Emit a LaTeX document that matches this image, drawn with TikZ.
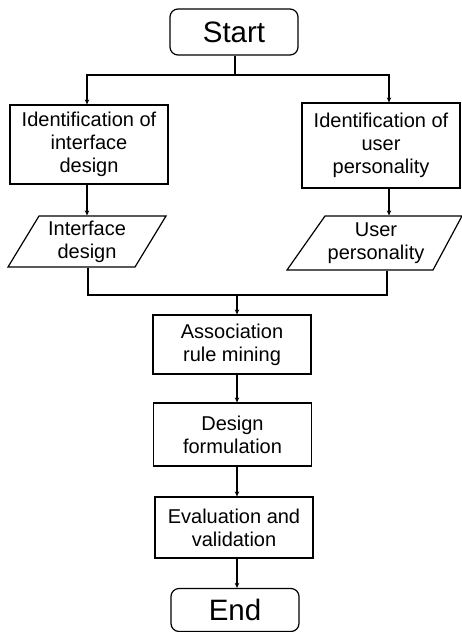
\documentclass[tikz,border=0pt]{standalone}
\usepackage{fontspec}
\setmainfont{Liberation Sans}
\usetikzlibrary{arrows.meta,calc}
\begin{document}
\begin{tikzpicture}[x=1pt,y=-1pt,
  line width=1.2pt,
  every node/.style={font=\fontsize{20}{23}\selectfont, align=center, inner sep=0pt},
  procbox/.style={draw, rectangle, minimum width=158pt, minimum height=#1},
  termbox/.style={draw, rounded corners=8pt, minimum width=128pt, minimum height=#1, font=\fontsize{29.5}{31}\selectfont},
  arr/.style={-{Stealth[length=5pt,width=4.5pt]}}
]
\useasboundingbox[fill=white] (0,0) rectangle (462,632);

% terminals
\node[termbox=46pt] (start) at (234,32) {Start};
\node[termbox=43pt] (end) at (235,610) {End};

% processes
\node[procbox=79pt] (lbox) at (89,144.5) {Identification of\\interface\\design};
\node[procbox=85pt] (rbox) at (381,145.5) {Identification of\\user\\personality};
\node[procbox=59pt] (assoc) at (232,344.5) {Association\\rule mining};
\node[procbox=63pt] (design) at (232.5,434.5) {Design\\formulation};
\node[procbox=61pt] (eval) at (234,527.5) {Evaluation and\\validation};

% data (parallelograms)
\draw (39,216) -- (166,216) -- (135,267) -- (8,267) -- cycle;
\node[minimum width=120pt, minimum height=51pt] (lpara) at (87,241.5) {Interface\\design};
\draw (325,216) -- (462,216) -- (433,270) -- (287,270) -- cycle;
\node[minimum width=120pt, minimum height=54pt] (rpara) at (376,243) {User\\personality};

% junctions
\coordinate (j1) at (235,75);
\coordinate (j2) at (237,295);

% connectors
\draw (start.south -| j1) -- (j1);
\draw[arr] (j1) -| ([xshift=-2pt]lbox.north);
\draw[arr] (j1) -| ([xshift=8pt]rbox.north);
\draw[arr] ([xshift=-2pt]lbox.south) -- ([xshift=-2pt]lbox.south |- lpara.north);
\draw[arr] ([xshift=8pt]rbox.south) -- ([xshift=8pt]rbox.south |- rpara.north);
\draw ([xshift=1pt]lpara.south) |- (j2);
\draw ([xshift=11pt]rpara.south) |- (j2);
\draw[arr] (j2) -- (j2 |- assoc.north);
\draw[arr] (j2 |- assoc.south) -- (j2 |- design.north);
\draw[arr] (j2 |- design.south) -- (j2 |- eval.north);
\draw[arr] (j2 |- eval.south) -- (j2 |- end.north);
\end{tikzpicture}
\end{document}
